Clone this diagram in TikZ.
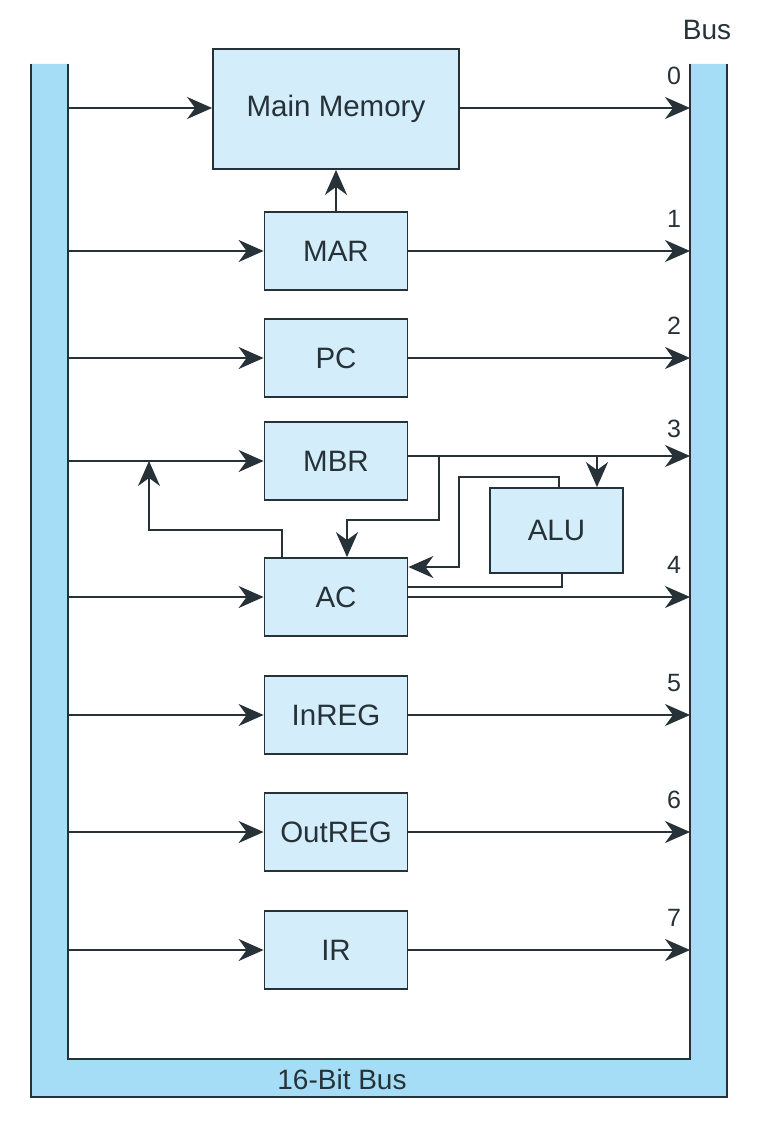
\documentclass[tikz,border=0pt]{standalone}
\usepackage{fontspec}
\setmainfont{Liberation Sans}
\usetikzlibrary{arrows.meta}
\definecolor{busblue}{HTML}{A6DDF6}
\definecolor{boxblue}{HTML}{D3EDFA}
\definecolor{edge}{HTML}{263238}
\begin{document}
\begin{tikzpicture}[x=1pt,y=-1pt,
 reg/.style={draw=edge,line width=1.8pt,fill=boxblue,minimum width=143pt,minimum height=78pt,inner sep=0pt,font=\fontsize{29.5}{31}\selectfont,text=edge},
 conn/.style={draw=edge,line width=1.8pt,-{Stealth[length=25pt,width=22pt,inset=8pt]}},
 wire/.style={draw=edge,line width=1.8pt},
 lab/.style={font=\fontsize{25}{28}\selectfont,text=edge,inner sep=0pt}]
\useasboundingbox (0,0) rectangle (756,1124);
\fill[white] (0,0) rectangle (756,1124);
% bus
\fill[busblue] (31,64) -- (31,1097) -- (727,1097) -- (727,64) -- (690,64) -- (690,1059) -- (68,1059) -- (68,64) -- cycle;
\draw[edge,line width=1.8pt] (31,64) -- (31,1097) -- (727,1097) -- (727,64);
\draw[edge,line width=1.8pt] (68,64) -- (68,1059) -- (690,1059) -- (690,64);
\node[lab,font=\fontsize{28}{30}\selectfont] (bus) at (707,30) {Bus};
\node[lab,font=\fontsize{28}{30}\selectfont] (bitbus) at (342,1079) {16-Bit Bus};
% boxes
\node[reg,minimum width=246pt,minimum height=120pt] (mm) at (336,109) {Main Memory};
\node[reg] (mar) at (336,251) {MAR};
\node[reg] (pc) at (336,358) {PC};
\node[reg] (mbr) at (336,461) {MBR};
\node[reg] (ac) at (336,597) {AC};
\node[reg] (inreg) at (336,715) {InREG};
\node[reg] (outreg) at (336,832) {OutREG};
\node[reg] (ir) at (336,950) {IR};
\node[reg,minimum width=133pt,minimum height=85pt] (alu) at (556.5,530.5) {ALU};
% bus coordinates
\foreach \n/\y in {0/108,1/251,2/358,3/461,4/597,5/715,6/832,7/950}{
  \coordinate (l\n) at (68,\y);
  \coordinate (r\n) at (690,\y);
  \node[lab] (num\n) at (674,\y-32) {\n};
}
\coordinate (r3) at (690,456);
% inputs
\draw[conn] (l0) -- (l0 -| mm.west);
\draw[conn] (l1) -- (mar.west);
\draw[conn] (l2) -- (pc.west);
\draw[conn] (l3) -- (mbr.west);
\draw[conn] (l4) -- (ac.west);
\draw[conn] (l5) -- (inreg.west);
\draw[conn] (l6) -- (outreg.west);
\draw[conn] (l7) -- (ir.west);
% outputs
\draw[conn] (r0 -| mm.east) -- (r0);
\draw[conn] (mar.east) -- (r1);
\draw[conn] (pc.east) -- (r2);
\draw[conn] (r3 -| mbr.east) -- (r3);
\draw[conn] (ac.east) -- (r4);
\draw[conn] (inreg.east) -- (r5);
\draw[conn] (outreg.east) -- (r6);
\draw[conn] (ir.east) -- (r7);
% MAR -> MM
\draw[conn] (mar.north) -- (mm.south);
% MBR -> AC
\coordinate (j1) at (439,456);
\draw[conn] (j1) -- (439,520) -- (347,520) -- ([xshift=11pt]ac.north);
% MBR -> ALU
\coordinate (j2) at (597,456);
\draw[conn] (j2) -- ([xshift=40.5pt]alu.north);
% ALU -> AC
\draw[conn] ([xshift=2.5pt]alu.north) -- (559,477) -- (459,477) -- (459,567) -- ([yshift=30pt]ac.east);
% AC -> ALU
\draw[wire] ([yshift=10pt]ac.east) -- (562,587) -- ([xshift=5.5pt]alu.south);
% AC -> bus (feedback)
\coordinate (j3) at (149,461);
\draw[conn] ([xshift=-54pt]ac.north) -- (282,530) -- (149,530) -- (j3);
\end{tikzpicture}
\end{document}
